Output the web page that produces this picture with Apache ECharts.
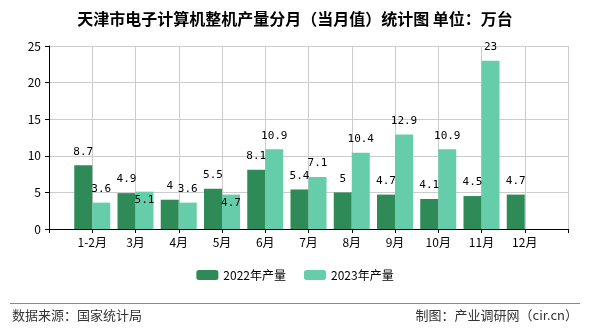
<!DOCTYPE html>
<html><head><meta charset="utf-8">
<script src="https://cdn.jsdelivr.net/npm/echarts@6/dist/echarts.min.js"></script>
<style>html,body{margin:0;padding:0;background:#fff}#c{width:590px;height:330px}</style>
</head><body><div id="c"></div>
<script>
var categories = ['', '1-2月', '3月', '4月', '5月', '6月', '7月', '8月', '9月', '10月', '11月', '12月', ''];
var values2022 = [null, 8.7, 4.9, 4, 5.5, 8.1, 5.4, 5, 4.7, 4.1, 4.5, 4.7, null];
var values2023 = [null, 3.6, 5.1, 3.6, 4.7, 10.9, 7.1, 10.4, 12.9, 10.9, 23, null, null];
var seriesNames = ['2022年产量', '2023年产量'];
var yTicks = [0, 5, 10, 15, 20, 25];
var insideLabel2023 = [2, 4];

var chart = echarts.init(document.getElementById('c'));
var cjk = '"Noto Sans CJK SC", sans-serif';
var labelFont = {show: true, position: 'top', distance: 8, color: '#000', fontSize: 11, fontFamily: '"DejaVu Sans Mono", monospace'};
function mk(vals, inside) {
  return vals.map(function (v, i) {
    if (v === null) return '-';
    if (inside && inside.indexOf(i) >= 0) return {value: v, label: {position: 'insideTop', distance: 3}};
    return v;
  });
}
chart.setOption({
  animation: false,
  title: {text: '天津市电子计算机整机产量分月（当月值）统计图 单位：万台', left: 'center', top: 6,
    textStyle: {fontSize: 16, fontWeight: 'bold', color: '#000', fontFamily: cjk}},
  grid: {left: 49, right: 22, top: 46, bottom: 101},
  legend: {bottom: 44, left: 'center', itemWidth: 22, itemHeight: 10, itemGap: 18,
    textStyle: {fontSize: 12, color: '#000', fontFamily: cjk}, data: seriesNames},
  xAxis: {type: 'category', data: categories, boundaryGap: false,
    axisLine: {lineStyle: {color: '#000'}}, axisTick: {show: true, length: 4, lineStyle: {color: '#000'}},
    axisLabel: {color: '#000', fontSize: 12, margin: 7, fontFamily: cjk, interval: 0},
    splitLine: {show: true, lineStyle: {color: '#ccc'}}},
  yAxis: {type: 'value', min: yTicks[0], max: yTicks[yTicks.length - 1], interval: 5,
    axisLine: {show: true, lineStyle: {color: '#000'}}, axisTick: {show: true, length: 4, lineStyle: {color: '#000'}},
    axisLabel: {color: '#000', fontSize: 12, margin: 8, fontFamily: cjk},
    splitLine: {lineStyle: {color: '#ccc'}}},
  series: [
    {name: seriesNames[0], type: 'bar', data: mk(values2022), barWidth: 18, barGap: '0%',
      itemStyle: {color: '#2E8B57'}, label: labelFont},
    {name: seriesNames[1], type: 'bar', data: mk(values2023, insideLabel2023), barWidth: 18, barGap: '0%',
      itemStyle: {color: '#66CDAA'}, label: labelFont}
  ],
  graphic: [
    {type: 'line', shape: {x1: 10, y1: 303.5, x2: 580, y2: 303.5}, style: {stroke: '#888', lineWidth: 1}},
    {type: 'text', left: 12, top: 309, style: {text: '数据来源：国家统计局', fontSize: 13, fill: '#333', fontFamily: cjk}},
    {type: 'text', right: 12, top: 309, style: {text: '制图：产业调研网（cir.cn）', fontSize: 13, fill: '#333', fontFamily: cjk}}
  ]
});
</script></body></html>
